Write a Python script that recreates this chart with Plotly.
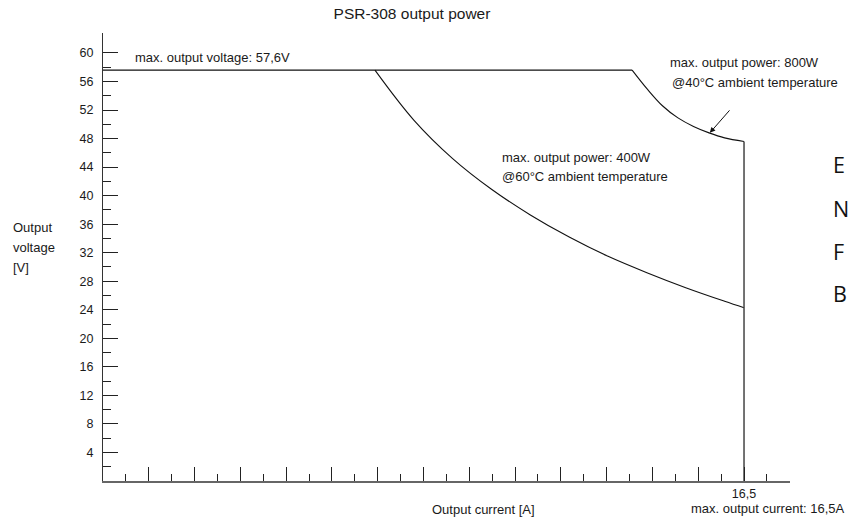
import plotly.graph_objects as go

# ---- data ----
# constant-voltage limit (max. output voltage 57,6 V)
cv_current = [0.0, 13.62]
cv_voltage = [57.6, 57.6]

# 800 W power limit @40°C
p800_current = [13.62, 14.0, 14.4, 14.8, 15.2, 15.6, 16.0, 16.5]
p800_voltage = [57.6, 55.0, 52.6, 50.9, 49.7, 48.8, 48.1, 47.6]

# 400 W power limit @60°C
p400_current = [7.0, 8.0, 9.0, 10.0, 11.0, 12.0, 13.0, 14.0, 15.0, 16.0, 16.5]
p400_voltage = [57.6, 50.6, 45.2, 40.9, 37.3, 34.2, 31.5, 29.2, 27.1, 25.2, 24.3]

# current limit (max. output current 16,5 A)
cc_current = [16.5, 16.5]
cc_voltage = [47.6, 0.0]

# axis ticks
y_tick_values = [4, 8, 12, 16, 20, 24, 28, 32, 36, 40, 44, 48, 52, 56, 60]
y_tick_labels = [str(v) for v in y_tick_values]
y_minor_values = [2, 6, 10, 14, 18, 22, 26, 30, 34, 38, 42, 46, 50, 54, 58]
x_max_current = 16.5
x_major_count = 15          # major ticks drawn along the current axis
x_label_value = 16.5
x_label_text = "16,5"

# ---- layout geometry (pixels) ----
W, H = 848, 519
L, R, T, B = 103, 58, 33, 38
PW, PH = W - L - R, H - T - B


def px(x):
    return (x - L) / PW


def py(y):
    return (H - B - y) / PH


step = x_max_current / 14
x_major_vals = [step * i for i in range(1, x_major_count + 1)]
x_major_text = [x_label_text if abs(v - x_label_value) < 1e-6 else "" for v in x_major_vals]
x_minor_vals = [step * (i + 0.5) for i in range(0, x_major_count)]

FONT = "Liberation Sans, Arial, sans-serif"
TXT = "#1a1a1a"

fig = go.Figure()
fig.add_trace(go.Scatter(x=cv_current, y=cv_voltage, mode="lines",
                         line=dict(color="#111111", width=1.1)))
fig.add_trace(go.Scatter(x=p800_current, y=p800_voltage, mode="lines",
                         line=dict(color="#111111", width=1.1, shape="spline", smoothing=1.0)))
fig.add_trace(go.Scatter(x=p400_current, y=p400_voltage, mode="lines",
                         line=dict(color="#111111", width=1.1, shape="spline", smoothing=1.0)))
fig.add_trace(go.Scatter(x=cc_current, y=cc_voltage, mode="lines",
                         line=dict(color="#444444", width=1.5)))

anns = []


def text(x, y, s, size=13, xanchor="left", yanchor="middle", family=FONT, color=TXT):
    anns.append(dict(x=px(x), y=py(y), xref="paper", yref="paper", text=s,
                     showarrow=False, xanchor=xanchor, yanchor=yanchor,
                     font=dict(family=family, size=size, color=color)))


text(133, 57, "max. output voltage: 57,6V")
text(668, 63, "max. output power: 800W")
text(670, 82, "@40°C ambient temperature")
text(500, 157, "max. output power: 400W")
text(500, 176, "@60°C ambient temperature")
text(11, 227, "Output")
text(11, 247, "voltage")
text(11, 267, "[V]")
text(483, 509, "Output current [A]", xanchor="center")
text(689, 508, "max. output current: 16,5A")
for yy, letter in zip([165, 208, 251, 293], ["E", "N", "F", "B"]):
    text(831, yy, letter, size=21.5, family="Open Sans, Noto Sans, sans-serif", color="#111111")

# arrow pointing at the 800 W curve
anns.append(dict(x=15.62, y=48.8, xref="x", yref="y", ax=21, ay=-24, text="",
                 showarrow=True, arrowhead=2, arrowsize=1.1, arrowwidth=1,
                 arrowcolor="#111111", standoff=0))

fig.update_layout(
    width=W, height=H,
    margin=dict(l=L, r=R, t=T, b=B),
    paper_bgcolor="white", plot_bgcolor="white",
    showlegend=False,
    title=dict(text="PSR-308 output power", x=412 / W, xref="container", xanchor="center",
               y=1 - 14 / H, yref="container", yanchor="middle",
               font=dict(family=FONT, size=15.5, color=TXT)),
    annotations=anns,
    font=dict(family=FONT, size=12, color=TXT),
)

fig.update_xaxes(range=[0, step * x_major_count + 0.005], showgrid=False, zeroline=False,
                 showline=True, linecolor="#666666", linewidth=2,
                 tickmode="array", tickvals=x_major_vals, ticktext=x_major_text,
                 ticks="inside", ticklen=14, tickwidth=1, tickcolor="#222222",
                 tickfont=dict(family=FONT, size=12.5, color=TXT),
                 minor=dict(tickmode="array", tickvals=x_minor_vals, ticks="inside",
                            ticklen=7, tickwidth=1, tickcolor="#222222"))
fig.update_yaxes(range=[0, 62.8], showgrid=False, zeroline=False,
                 showline=True, linecolor="#333333", linewidth=1.2,
                 tickmode="array", tickvals=y_tick_values, ticktext=y_tick_labels,
                 ticks="inside", ticklen=15, tickwidth=1, tickcolor="#222222",
                 ticklabelstandoff=6,
                 tickfont=dict(family=FONT, size=12.5, color=TXT),
                 minor=dict(tickmode="array", tickvals=y_minor_values, ticks="inside",
                            ticklen=8, tickwidth=1, tickcolor="#222222"))

fig.write_html("out.html", config={"displayModeBar": False},
               post_script="document.body.style.margin='0';")
